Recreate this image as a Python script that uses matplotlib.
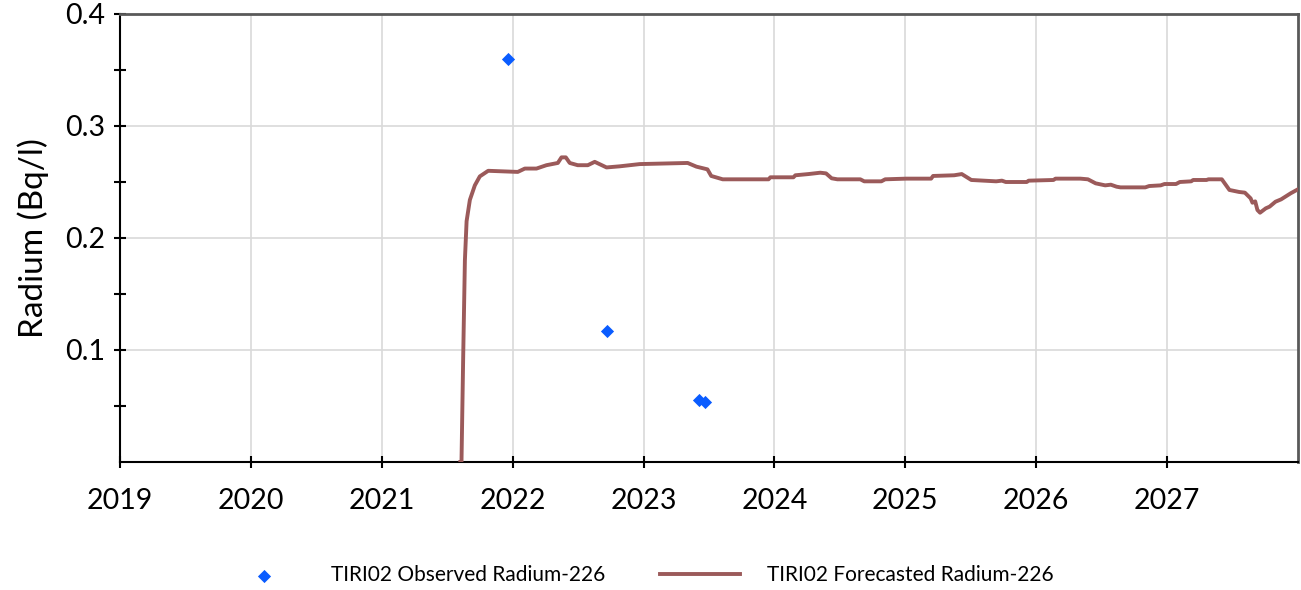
import matplotlib
matplotlib.use("Agg")
import matplotlib.pyplot as plt
from matplotlib.ticker import FixedLocator

plt.rcParams['font.family'] = ['Lato', 'DejaVu Sans']

# Observed Radium-226 (decimal year, Bq/l)
obs_year = [2021.963, 2022.719, 2023.422, 2023.468]
obs_val = [0.360, 0.117, 0.055, 0.054]

# Forecasted Radium-226 (decimal year, Bq/l)
fc_year = [2021.600, 2021.609, 2021.622, 2021.635, 2021.648, 2021.673, 2021.711,
           2021.749, 2021.813, 2022.039, 2022.093, 2022.182, 2022.258, 2022.345,
           2022.373, 2022.406, 2022.436, 2022.497, 2022.574, 2022.627, 2022.717,
           2022.818, 2022.971, 2023.337, 2023.404, 2023.488, 2023.517, 2023.605,
           2023.955, 2023.969, 2024.145, 2024.160, 2024.261, 2024.350, 2024.394,
           2024.437, 2024.481, 2024.656, 2024.686, 2024.817, 2024.846, 2025.007,
           2025.197, 2025.212, 2025.373, 2025.431, 2025.504, 2025.694, 2025.738,
           2025.767, 2025.928, 2025.942, 2026.132, 2026.147, 2026.337, 2026.395,
           2026.454, 2026.527, 2026.570, 2026.614, 2026.644, 2026.833, 2026.863,
           2026.951, 2026.980, 2027.068, 2027.097, 2027.184, 2027.199, 2027.301,
           2027.316, 2027.418, 2027.476, 2027.550, 2027.594, 2027.638, 2027.652,
           2027.673, 2027.690, 2027.710, 2027.754, 2027.783, 2027.828, 2027.871,
           2027.944, 2028.000]
fc_val = [0.000, 0.000, 0.094, 0.180, 0.215, 0.234, 0.247,
          0.255, 0.260, 0.259, 0.262, 0.262, 0.265, 0.267,
          0.272, 0.272, 0.267, 0.265, 0.265, 0.268, 0.263,
          0.264, 0.266, 0.267, 0.2637, 0.2613, 0.2554, 0.2524,
          0.2524, 0.2542, 0.2542, 0.2560, 0.2571, 0.2583, 0.2577,
          0.2533, 0.2524, 0.2524, 0.2506, 0.2506, 0.2524, 0.2530,
          0.2530, 0.2554, 0.2560, 0.2571, 0.2518, 0.2506, 0.2512,
          0.2500, 0.2500, 0.2512, 0.2518, 0.2530, 0.2530, 0.2524,
          0.2488, 0.2470, 0.2476, 0.2458, 0.2452, 0.2452, 0.2464,
          0.2470, 0.2482, 0.2482, 0.2500, 0.2506, 0.2518, 0.2518,
          0.2524, 0.2524, 0.2429, 0.2411, 0.2405, 0.2354, 0.2315,
          0.2327, 0.2250, 0.2226, 0.2265, 0.2280, 0.2324, 0.2345,
          0.2399, 0.2435]

year_ticks = [2019, 2020, 2021, 2022, 2023, 2024, 2025, 2026, 2027]
y_ticks = [0.1, 0.2, 0.3, 0.4]
y_minor = [0.05, 0.15, 0.25, 0.35]

fig = plt.figure(figsize=(13.01, 5.90), dpi=100)
ax = fig.add_axes([120/1301, 1-462/590, (1298-120)/1301, (462-14)/590])

ax.plot(fc_year, fc_val, color='#9b5a5a', lw=2.8, solid_joinstyle='round',
        label='TIRI02 Forecasted Radium-226', zorder=3)
ax.scatter(obs_year, obs_val, marker='D', s=45, color='#0a5cff', linewidths=0,
           label='TIRI02 Observed Radium-226', zorder=4)

ax.set_xlim(2019, 2028)
ax.set_ylim(0, 0.4)
ax.xaxis.set_major_locator(FixedLocator(year_ticks))
ax.set_xticklabels([str(y) for y in year_ticks])
ax.yaxis.set_major_locator(FixedLocator(y_ticks))
ax.set_yticklabels([f"{v:.1f}" for v in y_ticks])
ax.yaxis.set_minor_locator(FixedLocator(y_minor))

ax.grid(True, which='major', color='#d9d9d9', lw=1.2)
ax.set_axisbelow(True)

for s in ['left', 'bottom']:
    ax.spines[s].set_color('black')
    ax.spines[s].set_linewidth(1.5)
for s in ['top', 'right']:
    ax.spines[s].set_color('#595959')
    ax.spines[s].set_linewidth(2)

ax.tick_params(axis='x', direction='inout', length=9, width=1.5, labelsize=20.5, pad=14)
ax.tick_params(axis='y', which='major', direction='inout', length=9, width=1.5, labelsize=20.5, pad=6)
ax.tick_params(axis='y', which='minor', direction='inout', length=9, width=1.5)

ax.set_ylabel('Radium (Bq/l)', fontsize=24, labelpad=12)

h, l = ax.get_legend_handles_labels()
leg = fig.legend([h[1], h[0]], [l[1], l[0]], loc='center', bbox_to_anchor=(0.491, 0.025),
                 ncol=2, frameon=False, fontsize=15, handlelength=3.85,
                 handletextpad=1.3, columnspacing=2.6, scatterpoints=1)

fig.savefig('out.png', dpi=100)
